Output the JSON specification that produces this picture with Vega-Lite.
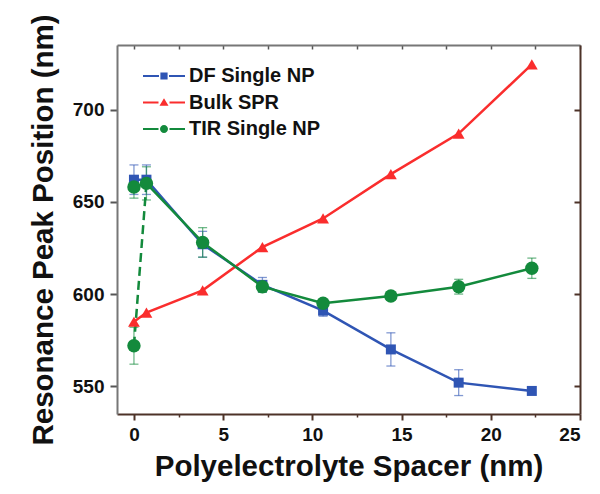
{
  "$schema": "https://vega.github.io/schema/vega-lite/v6.json",
  "width": 463,
  "height": 369,
  "autosize": "none",
  "padding": {"left": 117, "top": 45, "right": 20, "bottom": 80},
  "background": "white",
  "config": {
    "view": {"stroke": null},
    "font": "Liberation Sans",
    "axis": {
      "grid": false,
      "labelFont": "Liberation Sans",
      "labelFontSize": 19,
      "labelFontWeight": "bold",
      "labelColor": "#111",
      "titleFont": "Liberation Sans",
      "titleFontSize": 29.5,
      "titleFontWeight": "bold",
      "titleColor": "#111"
    }
  },
  "datasets": {
    "pts": [
      {"series": "DF Single NP", "x": 0, "y": 662, "err": 8, "kind": "main"},
      {"series": "DF Single NP", "x": 0.7, "y": 662, "err": 8, "kind": "main"},
      {"series": "DF Single NP", "x": 3.85, "y": 627, "err": 7, "kind": "main"},
      {"series": "DF Single NP", "x": 7.2, "y": 605, "err": 4, "kind": "main"},
      {"series": "DF Single NP", "x": 10.6, "y": 591, "err": 3, "kind": "main"},
      {"series": "DF Single NP", "x": 14.4, "y": 570, "err": 9, "kind": "main"},
      {"series": "DF Single NP", "x": 18.2, "y": 552, "err": 7, "kind": "main"},
      {"series": "DF Single NP", "x": 22.3, "y": 547.5, "err": 0, "kind": "main"},
      {"series": "Bulk SPR", "x": 0, "y": 585, "err": 0, "kind": "main"},
      {"series": "Bulk SPR", "x": 0.7, "y": 590, "err": 0, "kind": "main"},
      {"series": "Bulk SPR", "x": 3.85, "y": 602, "err": 0, "kind": "main"},
      {"series": "Bulk SPR", "x": 7.2, "y": 625.5, "err": 0, "kind": "main"},
      {"series": "Bulk SPR", "x": 10.6, "y": 641, "err": 0, "kind": "main"},
      {"series": "Bulk SPR", "x": 14.4, "y": 665, "err": 0, "kind": "main"},
      {"series": "Bulk SPR", "x": 18.2, "y": 687, "err": 0, "kind": "main"},
      {"series": "Bulk SPR", "x": 22.3, "y": 724.5, "err": 0, "kind": "main"},
      {"series": "TIR Single NP", "x": 0, "y": 658, "err": 6, "kind": "main"},
      {"series": "TIR Single NP", "x": 0.7, "y": 660, "err": 9, "kind": "main"},
      {"series": "TIR Single NP", "x": 3.85, "y": 628, "err": 8, "kind": "main"},
      {"series": "TIR Single NP", "x": 7.2, "y": 604, "err": 3, "kind": "main"},
      {"series": "TIR Single NP", "x": 10.6, "y": 595, "err": 2, "kind": "main"},
      {"series": "TIR Single NP", "x": 14.4, "y": 599, "err": 2, "kind": "main"},
      {"series": "TIR Single NP", "x": 18.2, "y": 604, "err": 4, "kind": "main"},
      {"series": "TIR Single NP", "x": 22.3, "y": 614, "err": 5.5, "kind": "main"},
      {"series": "TIR Single NP", "x": 0, "y": 572, "err": 10, "kind": "bare"}
    ],
    "dash": [
      {"series": "TIR Single NP", "x": 0, "y": 572},
      {"series": "TIR Single NP", "x": 0.7, "y": 660}
    ]
  },
  "layer": [
    {
      "data": {"name": "pts"},
      "transform": [{"filter": "datum.kind == 'main'"}],
      "mark": {"type": "line", "strokeWidth": 2.5},
      "encoding": {
        "x": {
          "field": "x", "type": "quantitative",
          "scale": {"domain": [-0.95, 25], "nice": false, "zero": false},
          "axis": {"orient": "top", "values": [0, 2.5, 5, 7.5, 10, 12.5, 15, 17.5, 20, 22.5, 25], "labels": false, "title": null, "tickSize": -4, "tickColor": "#555", "tickWidth": 1.5, "domainColor": "#777777", "domainWidth": 2}
        },
        "y": {
          "field": "y", "type": "quantitative",
          "scale": {"domain": [535, 735], "nice": false, "zero": false},
          "axis": {"orient": "right", "values": [550, 600, 650, 700], "labels": false, "title": null, "tickSize": -6, "tickColor": "#4d3228", "tickWidth": 2, "domainColor": "#4d3228", "domainWidth": 2}
        },
        "color": {
          "field": "series", "type": "nominal",
          "scale": {"domain": ["DF Single NP", "Bulk SPR", "TIR Single NP"], "range": ["#2f55b4", "#fa2d2d", "#138a3c"]},
          "legend": null
        }
      }
    },
    {
      "data": {"name": "dash"},
      "mark": {"type": "line", "strokeWidth": 2.5, "strokeDash": [9, 5], "color": "#138a3c"},
      "encoding": {
        "x": {
          "field": "x", "type": "quantitative",
          "axis": {"orient": "bottom", "values": [2.5, 7.5, 12.5, 17.5, 22.5], "labels": false, "title": null, "tickSize": 3, "tickColor": "#4d3228", "tickWidth": 1.5, "domain": false}
        },
        "y": {"field": "y", "type": "quantitative", "axis": null}
      }
    },
    {
      "data": {"name": "pts"},
      "transform": [{"filter": "datum.err > 0"}],
      "mark": {"type": "errorbar", "ticks": {"size": 9, "opacity": 0.6}, "rule": {"opacity": 0.6}, "thickness": 1.3},
      "encoding": {
        "x": {"field": "x", "type": "quantitative", "axis": null},
        "y": {"field": "y", "type": "quantitative", "axis": null},
        "yError": {"field": "err"},
        "color": {
          "field": "series", "type": "nominal",
          "scale": {"domain": ["DF Single NP", "Bulk SPR", "TIR Single NP"], "range": ["#2f55b4", "#fa2d2d", "#138a3c"]},
          "legend": null
        }
      }
    },
    {
      "data": {"name": "pts"},
      "mark": {"type": "point", "filled": true, "opacity": 1},
      "encoding": {
        "x": {
          "field": "x", "type": "quantitative",
          "axis": {"orient": "bottom", "values": [0, 5, 10, 15, 20, 25], "title": "Polyelectrolyte Spacer (nm)", "tickSize": 6, "tickColor": "#4d3228", "tickWidth": 2, "domainColor": "#4d3228", "domainWidth": 2, "labelPadding": 5, "titlePadding": 8}
        },
        "y": {
          "field": "y", "type": "quantitative",
          "axis": {"orient": "left", "values": [550, 600, 650, 700], "title": "Resonance Peak Position (nm)", "tickSize": 7, "tickColor": "#555", "tickWidth": 2, "domainColor": "#777777", "domainWidth": 2, "labelPadding": 6, "titlePadding": 14}
        },
        "color": {
          "field": "series", "type": "nominal",
          "scale": {"domain": ["DF Single NP", "Bulk SPR", "TIR Single NP"], "range": ["#2f55b4", "#fa2d2d", "#138a3c"]},
          "legend": null
        },
        "shape": {
          "field": "series", "type": "nominal",
          "scale": {"domain": ["DF Single NP", "Bulk SPR", "TIR Single NP"], "range": ["square", "triangle-up", "circle"]},
          "legend": null
        },
        "size": {
          "field": "series", "type": "nominal",
          "scale": {"domain": ["DF Single NP", "Bulk SPR", "TIR Single NP"], "range": [100, 180, 144]},
          "legend": null
        }
      }
    },
    {
      "data": {"name": "pts"},
      "transform": [{"filter": "datum.x < -100"}],
      "mark": {"type": "point", "filled": true, "opacity": 1, "size": 400},
      "encoding": {
        "x": {"field": "x", "type": "quantitative", "axis": null},
        "y": {"field": "y", "type": "quantitative", "axis": null},
        "color": {
          "field": "series", "type": "nominal",
          "scale": {"domain": ["DF Single NP", "Bulk SPR", "TIR Single NP"], "range": ["#2f55b4", "#fa2d2d", "#138a3c"]},
          "legend": {
            "title": null,
            "orient": "none",
            "legendX": 37,
            "legendY": 21,
            "padding": 0,
            "symbolSize": 400,
            "symbolStrokeWidth": 0,
            "labelFont": "Liberation Sans",
            "labelFontSize": 20,
            "labelFontWeight": "bold",
            "labelColor": "#111",
            "labelOffset": 15,
            "rowPadding": 6.5
          }
        },
        "shape": {
          "field": "series", "type": "nominal",
          "scale": {"domain": ["DF Single NP", "Bulk SPR", "TIR Single NP"], "range": ["M-2.1,-0.11H-0.5V0.11H-2.1Z M0.5,-0.11H2.1V0.11H0.5Z M-0.36,-0.36H0.36V0.36H-0.36Z", "M-2.1,-0.11H-0.55V0.11H-2.1Z M0.55,-0.11H2.1V0.11H0.55Z M0,-0.42L0.45,0.33L-0.45,0.33Z", "M-2.1,-0.11H-0.55V0.11H-2.1Z M0.55,-0.11H2.1V0.11H0.55Z M-0.4,0A0.4,0.4,0,1,0,0.4,0A0.4,0.4,0,1,0,-0.4,0Z"]}
        }
      }
    }
  ],
  "resolve": {
    "scale": {"color": "independent", "shape": "independent", "size": "independent"},
    "axis": {"x": "independent", "y": "independent"}
  }
}
